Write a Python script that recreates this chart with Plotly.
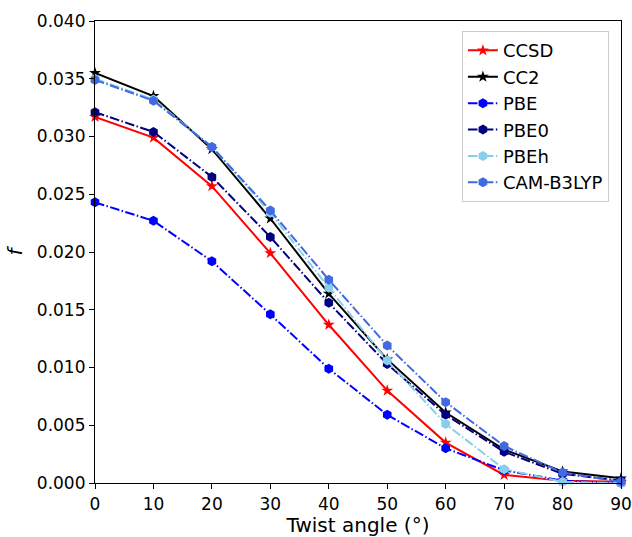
import plotly.graph_objects as go

angles = [0, 10, 20, 30, 40, 50, 60, 70, 80, 90]
ccsd = [0.0317, 0.0299, 0.0257, 0.0199, 0.0137, 0.0080, 0.0035, 0.0007, 0.0002, 0.0001]
cc2 = [0.0355, 0.0335, 0.0289, 0.0229, 0.0164, 0.0107, 0.0061, 0.0029, 0.0010, 0.0004]
pbe = [0.0243, 0.0227, 0.0192, 0.0146, 0.0099, 0.0059, 0.0030, 0.0011, 0.0002, 0.0000]
pbe0 = [0.0321, 0.0304, 0.0265, 0.0213, 0.0156, 0.0103, 0.0059, 0.0027, 0.0008, 0.0002]
pbeh = [0.0350, 0.0332, 0.0291, 0.0234, 0.0169, 0.0106, 0.0051, 0.0012, 0.0001, 0.0000]
cam = [0.0349, 0.0331, 0.0291, 0.0236, 0.0176, 0.0119, 0.0070, 0.0032, 0.0009, 0.0001]

series = [
    ("CCSD", ccsd, "#ff0000", "star", "solid"),
    ("CC2", cc2, "#000000", "star", "solid"),
    ("PBE", pbe, "#0000ff", "hexagon", "9.6px,2.4px,1.5px,2.4px"),
    ("PBE0", pbe0, "#000080", "hexagon", "9.6px,2.4px,1.5px,2.4px"),
    ("PBEh", pbeh, "#87ceeb", "hexagon", "9.6px,2.4px,1.5px,2.4px"),
    ("CAM-B3LYP", cam, "#4169e1", "hexagon", "9.6px,2.4px,1.5px,2.4px"),
]

fig = go.Figure()
for name, vals, color, sym, dash in series:
    fig.add_trace(go.Scatter(
        x=angles, y=vals, name=name, mode="lines+markers",
        line=dict(color=color, width=2, dash=dash),
        marker=dict(symbol=sym, size=9 if sym == "star" else 10, color=color, line=dict(width=0)),
        cliponaxis=False,
    ))

font = "DejaVu Sans"
fig.update_layout(
    width=632, height=537,
    margin=dict(l=95, r=11, t=21, b=54),
    plot_bgcolor="white", paper_bgcolor="white",
    font=dict(family=font, size=17, color="black"),
    showlegend=True,
    legend=dict(
        x=0.977, y=0.978, xanchor="right", yanchor="top",
        bordercolor="#cccccc", borderwidth=1, bgcolor="rgba(255,255,255,0.8)",
        font=dict(family=font, size=18),
    ),
    xaxis=dict(
        range=[0, 90], tickvals=angles, ticks="outside", ticklen=5, tickcolor="black",
        showline=True, linecolor="black", linewidth=1.2, mirror=True, showgrid=False, zeroline=False,
        title=dict(text="Twist angle (°)", font=dict(size=20), standoff=4),
        tickfont=dict(size=17), automargin=False,
    ),
    yaxis=dict(
        range=[0, 0.04], dtick=0.005, tickformat=".3f", ticks="outside", ticklen=5, tickcolor="black",
        showline=True, linecolor="black", linewidth=1.2, mirror=True, showgrid=False, zeroline=False,
        title=dict(text="<i>f</i>", font=dict(size=20), standoff=8),
        tickfont=dict(size=17), automargin=False,
    ),
)

fig.write_html("out.html")
